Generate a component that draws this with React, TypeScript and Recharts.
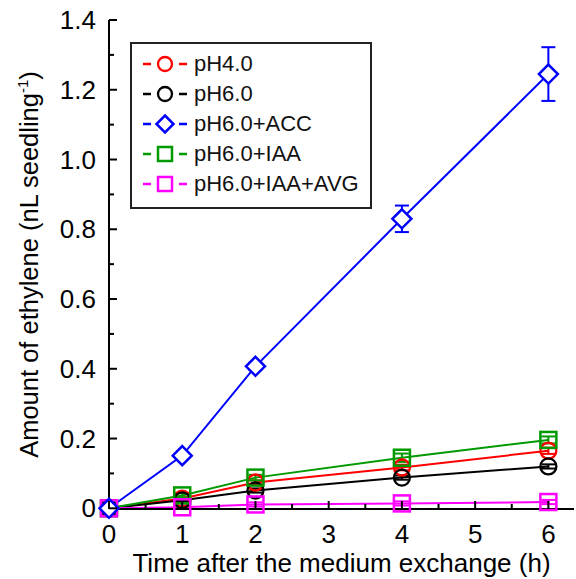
import React from "react";
import {
  ErrorBar,
  Label,
  Legend,
  Line,
  LineChart,
  XAxis,
  YAxis,
} from "recharts";

// hours after medium exchange
const times = [0, 1, 2, 4, 6];

const ph4 = [0, 0.028, 0.074, 0.117, 0.165];
const ph4Err = [0, 0.004, 0.006, 0.008, 0.009];
const ph6 = [0, 0.023, 0.051, 0.088, 0.12];
const ph6Err = [0, 0.004, 0.006, 0.006, 0.006];
const acc = [0, 0.151, 0.407, 0.83, 1.245];
const accErr = [0, 0.008, 0.01, 0.038, 0.077];
const iaa = [0, 0.037, 0.088, 0.145, 0.196];
const iaaErr = [0, 0.006, 0.008, 0.012, 0.01];
const avg = [0, 0.003, 0.011, 0.014, 0.018];
const avgErr = [0, 0.005, 0.006, 0.006, 0.006];

const xTicks = [0, 0.5, 1, 1.5, 2, 2.5, 3, 3.5, 4, 4.5, 5, 5.5, 6];
const yTicks = [0, 0.1, 0.2, 0.3, 0.4, 0.5, 0.6, 0.7, 0.8, 0.9, 1.0, 1.1, 1.2, 1.3, 1.4];

const data = times.map((t, i) => ({
  time: t,
  ph4: ph4[i],
  ph4Err: ph4Err[i],
  ph6: ph6[i],
  ph6Err: ph6Err[i],
  acc: acc[i],
  accErr: accErr[i],
  iaa: iaa[i],
  iaaErr: iaaErr[i],
  avg: avg[i],
  avgErr: avgErr[i],
}));

type Shape = "circle" | "diamond" | "square";

const series: { key: string; name: string; color: string; shape: Shape }[] = [
  { key: "ph4", name: "pH4.0", color: "#ff0000", shape: "circle" },
  { key: "ph6", name: "pH6.0", color: "#000000", shape: "circle" },
  { key: "acc", name: "pH6.0+ACC", color: "#0000ff", shape: "diamond" },
  { key: "iaa", name: "pH6.0+IAA", color: "#009a00", shape: "square" },
  { key: "avg", name: "pH6.0+IAA+AVG", color: "#ff00ff", shape: "square" },
];

// draw order: ACC last so its diamond sits on top
const drawOrder = ["ph4", "ph6", "iaa", "avg", "acc"];

const FONT = "'Liberation Sans', Arial, Helvetica, sans-serif";

function Marker({ cx, cy, shape, color, size }: { cx: number; cy: number; shape: Shape; color: string; size: number }) {
  const h = size / 2;
  if (shape === "circle") {
    return <circle cx={cx} cy={cy} r={h} fill="none" stroke={color} strokeWidth={2.3} />;
  }
  if (shape === "square") {
    return <rect x={cx - h} y={cy - h} width={size} height={size} fill="none" stroke={color} strokeWidth={2.5} />;
  }
  const d = h + 1.5;
  return (
    <polygon
      points={`${cx},${cy - d} ${cx + d},${cy} ${cx},${cy + d} ${cx - d},${cy}`}
      fill="#fff"
      stroke={color}
      strokeWidth={2.5}
    />
  );
}

const makeDot = (shape: Shape, color: string) => (props: any) => {
  const { cx, cy, index } = props;
  if (cx == null || cy == null) return <g key={`d-${index}`} />;
  return (
    <g key={`d-${index}`}>
      <Marker cx={cx} cy={cy} shape={shape} color={color} size={16} />
    </g>
  );
};

const isMajorX = (v: number) => Math.abs(v - Math.round(v)) < 1e-6;
const isMajorY = (v: number) => Math.round(v * 10) % 2 === 0;
const fmtY = (v: number) => (v === 0 ? "0" : v.toFixed(1));

const BottomTick = (props: any) => {
  const { x, y, payload } = props;
  const major = isMajorX(payload.value);
  return (
    <g>
      <line x1={x} y1={y} x2={x} y2={y - (major ? 8 : 5)} stroke="#000" strokeWidth={2} />
      {major && (
        <text x={x} y={y + 25} dy="0.35em" textAnchor="middle" fontSize={26} fill="#000">
          {payload.value}
        </text>
      )}
    </g>
  );
};

const TopTick = (props: any) => {
  const { x, y, payload } = props;
  const major = isMajorX(payload.value);
  return <line x1={x} y1={y} x2={x} y2={y + (major ? 8 : 5)} stroke="#000" strokeWidth={2} />;
};

const LeftTick = (props: any) => {
  const { x, y, payload } = props;
  const major = isMajorY(payload.value);
  return (
    <g>
      <line x1={x} y1={y} x2={x + (major ? 8 : 5)} y2={y} stroke="#000" strokeWidth={2} />
      {major && (
        <text x={x - 13} y={y} dy="0.35em" textAnchor="end" fontSize={26} fill="#000">
          {fmtY(payload.value)}
        </text>
      )}
    </g>
  );
};

const RightTick = (props: any) => {
  const { x, y, payload } = props;
  const major = isMajorY(payload.value);
  return <line x1={x} y1={y} x2={x - (major ? 8 : 5)} y2={y} stroke="#000" strokeWidth={2} />;
};

const YTitle = (props: any) => {
  const { viewBox } = props;
  const cx = 29;
  const cy = viewBox.y + viewBox.height / 2;
  return (
    <text
      x={cx}
      y={cy}
      dy="0.35em"
      textAnchor="middle"
      fontSize={25.5}
      fill="#000"
      transform={`rotate(-90, ${cx}, ${cy})`}
    >
      <tspan>Amount of ethylene (nL seedling</tspan>
      <tspan dy={-10} fontSize={15}>-1</tspan>
      <tspan dy={10}>)</tspan>
    </text>
  );
};

function LegendBox() {
  return (
    <div
      style={{
        border: "2px solid #222",
        background: "#fff",
        width: 238,
        height: 158,
        boxSizing: "content-box",
        paddingTop: 5,
        fontFamily: FONT,
      }}
    >
      {series.map((s) => (
        <div key={s.key} style={{ display: "flex", alignItems: "center", height: 30 }}>
          <svg width={62} height={30} style={{ display: "block" }}>
            <line x1={11} y1={15} x2={19} y2={15} stroke={s.color} strokeWidth={2.5} />
            <line x1={47} y1={15} x2={55} y2={15} stroke={s.color} strokeWidth={2.5} />
            <Marker cx={33} cy={15} shape={s.shape} color={s.color} size={14} />
          </svg>
          <span style={{ fontSize: 22, color: "#111", lineHeight: "30px" }}>{s.name}</span>
        </div>
      ))}
    </div>
  );
}

export default function App() {
  return (
    <div style={{ position: "absolute", left: 0, top: 0, fontFamily: FONT, background: "#fff" }}>
      <LineChart width={576} height={579} data={data} margin={{ top: 20, right: 2, bottom: 0, left: 0 }}>
        <XAxis
          dataKey="time"
          type="number"
          domain={[0, 6.35]}
          ticks={xTicks}
          interval={0}
          height={70}
          tickSize={0}
          tickMargin={0}
          tickLine={false}
          tick={BottomTick}
          axisLine={{ stroke: "#000", strokeWidth: 2 }}
        >
          <Label value="Time after the medium exchange (h)" position="insideBottom" offset={7} fontSize={26} fill="#000" />
        </XAxis>
        <XAxis
          xAxisId="top"
          orientation="top"
          type="number"
          domain={[0, 6.35]}
          ticks={xTicks}
          interval={0}
          height={0}
          tickSize={0}
          tickLine={false}
          tick={TopTick}
          allowDataOverflow
          axisLine={{ stroke: "#000", strokeWidth: 2 }}
        />
        <YAxis
          type="number"
          domain={[0, 1.4]}
          ticks={yTicks}
          interval={0}
          width={109}
          tickSize={0}
          tickMargin={0}
          tickLine={false}
          tick={LeftTick}
          axisLine={{ stroke: "#000", strokeWidth: 2 }}
        >
          <Label content={YTitle} />
        </YAxis>
        <YAxis
          yAxisId="right"
          orientation="right"
          type="number"
          domain={[0, 1.4]}
          ticks={yTicks}
          interval={0}
          width={0}
          tickSize={0}
          tickLine={false}
          tick={RightTick}
          allowDataOverflow
          axisLine={{ stroke: "#000", strokeWidth: 2 }}
        />
        <Legend
          layout="vertical"
          align="center"
          verticalAlign="middle"
          content={() => <LegendBox />}
          wrapperStyle={{ left: 130, top: 42, width: 242, height: 163 }}
        />
        {drawOrder.map((k) => {
          const s = series.find((x) => x.key === k)!;
          return (
            <Line
              key={s.key}
              dataKey={s.key}
              name={s.name}
              stroke={s.color}
              strokeWidth={2}
              dot={makeDot(s.shape, s.color)}
              activeDot={false}
              isAnimationActive={false}
            >
              <ErrorBar
                dataKey={`${s.key}Err`}
                direction="y"
                width={7}
                strokeWidth={2}
                stroke={s.color}
                isAnimationActive={false}
              />
            </Line>
          );
        })}
      </LineChart>
    </div>
  );
}
